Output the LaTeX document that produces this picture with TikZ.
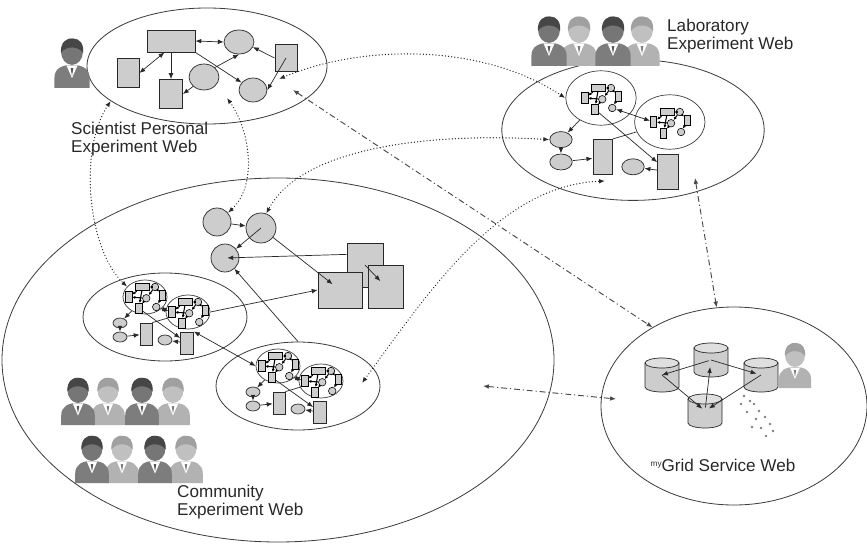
\documentclass[tikz,border=0pt]{standalone}
\usepackage{fontspec}
\setmainfont{Liberation Sans}
\usepackage{xcolor}
\definecolor{ink}{RGB}{40, 40, 40}
\definecolor{paper}{RGB}{205, 205, 205}
\definecolor{suitdark}{RGB}{125, 125, 125}
\definecolor{facedark}{RGB}{118, 118, 118}
\definecolor{hairdark}{RGB}{70, 70, 70}
\definecolor{suitlight}{RGB}{178, 178, 178}
\definecolor{facelight}{RGB}{192, 192, 192}
\definecolor{hairlight}{RGB}{160, 160, 160}
\usetikzlibrary{arrows.meta, positioning, shapes.geometric, shapes.misc}

% one drawing unit is one pixel of the layout
\newcommand{\pxl}{0.3mm}

% person icon: body colour, face colour, hair colour
\newcommand{\usericon}[3]{%
  \fill[#1] (-16,0) -- (-16,-9) .. controls (-16,-18) and (-9,-21) .. (0,-21)
    .. controls (9,-21) and (16,-18) .. (16,-9) -- (16,0) -- cycle;
  \fill[white] (-5,-20.5) -- (0,-9) -- (5,-20.5) -- cycle;
  \fill[#1!70!black] (-1.2,-18) -- (1.2,-18) -- (0,-11) -- cycle;
  \fill[#2] (0,-33) ellipse (10 and 12);
  \fill[#3] (-10,-32) .. controls (-11,-42) and (-4,-46) .. (1,-45)
    .. controls (7,-45) and (11,-40) .. (10,-32)
    .. controls (6,-38) and (-5,-39) .. (-10,-32) -- cycle;
}

\tikzset{
  wh/.style 2 args={minimum width=#1*\pxl, minimum height=#2*\pxl},
  webring/.style={ellipse, draw=ink!90, line width=0.7pt, inner sep=0pt, transform shape},
  subring/.style={ellipse, draw=ink!90, line width=0.6pt, inner sep=0pt, transform shape},
  blob/.style={ellipse, draw=ink, fill=paper, line width=0.6pt, inner sep=0pt, transform shape},
  box/.style={rectangle, draw=ink, fill=paper, line width=0.7pt, inner sep=0pt, transform shape},
  sheet/.style={chamfered rectangle, chamfered rectangle corners=south east,
    chamfered rectangle xsep=4*\pxl, chamfered rectangle ysep=4*\pxl,
    draw=ink, fill=paper, line width=0.7pt, inner sep=0pt, transform shape},
  minibox/.style={box, draw=black, line width=0.5pt},
  minidot/.style={blob, draw=black, wh={6}{6}, line width=0.5pt},
  minisheet/.style={sheet, draw=black, chamfered rectangle xsep=1*\pxl,
    chamfered rectangle ysep=1*\pxl, line width=0.5pt},
  flow/.style={-{Latex[length=5pt, width=4pt]}, draw=ink, line width=0.6pt},
  twoflow/.style={{Latex[length=5pt, width=4pt]}-{Latex[length=5pt, width=4pt]}, draw=ink, line width=0.6pt},
  wire/.style={draw=ink, line width=0.6pt},
  tinyflow/.style={-{Latex[length=2.6pt, width=2.6pt]}, draw=black, line width=0.9pt},
  dotlink/.style={{Latex[length=5pt, width=4pt]}-{Latex[length=5pt, width=4pt]}, draw=ink,
    line width=1.1pt, dash pattern=on 0.1pt off 2.6pt, line cap=round},
  dashlink/.style={{Latex[length=5pt, width=4pt]}-{Latex[length=5pt, width=4pt]}, draw=ink!85,
    line width=0.8pt, dash pattern=on 5pt off 2.5pt on 1pt off 2.5pt},
  lbl/.style={font=\fontsize{14.6}{15.5}\selectfont, text=ink, align=left,
    inner sep=0pt, anchor=north west},
  userdark/.pic={\usericon{suitdark}{facedark}{hairdark}},
  userlight/.pic={\usericon{suitlight}{facelight}{hairlight}},
  % database drum, arrows attach to its core node
  dbdrum/.pic={
    \node[inner sep=0pt, wh={35}{34}] (-core) at (0,0) {};
    \filldraw[fill=paper, draw=ink, line width=0.6pt] (-17,-12) -- (-17,12)
      arc[start angle=180, end angle=0, x radius=17, y radius=5] -- (17,-12) -- cycle;
    \filldraw[fill=paper!65, draw=ink, line width=0.6pt] (0,-12) ellipse (17 and 5);
  },
  % tiny workflow drawn inside a sub-web
  miniflow/.pic={
    \node[minibox, wh={11}{6}] (-r) at (-2,-8) {};
    \node[minidot] (-c1) at (8,-8) {};
    \node[minisheet, wh={5}{9}] (-d1) at (-13,0) {};
    \node[minidot] (-c2) at (1,1) {};
    \node[minisheet, wh={5}{8}] (-d2) at (-5,9) {};
    \node[minidot] (-c3) at (9,8) {};
    \node[minisheet, wh={5}{8}] (-d3) at (14,-1) {};
    \draw[tinyflow] (-r) -- (-d1);
    \draw[tinyflow] (-r) -- (-d2);
    \draw[tinyflow] (-c1) -- (-r);
    \draw[tinyflow] (-c1) -- (-c2);
    \draw[tinyflow] (-c2) -- (-d1);
    \draw[tinyflow] (-c2) -- (-d2);
    \draw[tinyflow] (-c1) -- (-d3);
    \draw[tinyflow] (-d3) -- (-c3);
  },
  % experiment web made of two sub-webs and a few resources
  subweb/.pic={
    \node[webring, wh={164}{88}] (-outer) at (0,0) {};
    \node[subring, wh={44}{34}] (-subA) at (-20,-20) {};
    \node[subring, wh={44}{34}] (-subB) at (23,-5) {};
    \pic[scale=1.25] (-mA) at (-20,-20) {miniflow};
    \pic[scale=1.25] (-mB) at (23,-5) {miniflow};
    \node[blob, wh={14}{10}] (-e1) at (-45,6) {};
    \node[blob, wh={14}{10}] (-e2) at (-45,20) {};
    \node[sheet, wh={12}{22}] (-d1) at (-19,17) {};
    \node[blob, wh={14}{10}] (-e3) at (0,23) {};
    \node[sheet, wh={13}{22}] (-d2) at (22,26) {};
    \draw[flow] (-subA) -- (-e1);
    \draw[flow] (-e1) -- (-e2);
    \draw[flow] (-e2) -- (-d1);
    \draw[wire] (-subB) -- (-d1.north east);
    \draw[flow] (-mA-d2) -- (-d2);
    \draw[flow] (-d2) -- (-e3);
    \draw[twoflow] (-mA-c3) -- (-mB-d1);
  }
}

\begin{document}
\begin{tikzpicture}[x=0.3mm, y=-0.3mm]
  \useasboundingbox (0,0) rectangle (867,544);

  % outer webs
  \node[webring, wh={240}{116}] (pers) at (207,66) {};
  \node[webring, wh={552}{364}] (comm) at (278,360) {};
  \node[webring, wh={266}{198}] (grid) at (734,406) {};
  \pic[scale=1.6] (lab) at (633,130) {subweb};
  \pic (comWfA) at (165,317) {subweb};
  \pic (comWfB) at (298,386) {subweb};

  % personal web
  \pic[scale=1.1] (pUser) at (72,88) {userdark};
  \node[box, wh={48}{22}] (pRect) at (171,41) {};
  \node[sheet, wh={22}{29}] (pDocL) at (128,73) {};
  \node[sheet, wh={23}{29}] (pDocM) at (171,94) {};
  \node[blob, wh={30}{26}] (pEllM) at (204,77) {};
  \node[blob, wh={30}{24}] (pEllT) at (239,42) {};
  \node[blob, wh={28}{24}] (pEllB) at (253,90) {};
  \node[sheet, wh={22}{27}] (pDocR) at (286,58) {};
  \draw[twoflow] (pRect.east) -- (pEllT.west);
  \draw[twoflow] (pRect.-120) -- (pDocL.east);
  \draw[flow] (pRect.south) -- (pDocM.north);
  \draw[flow] (pRect.south east) -- (pEllB);
  \draw[flow] (pEllM.north east) -- (pEllT.south);
  \draw[flow] (pEllM.south west) -- (pDocM.east);
  \draw[flow] (pDocR.center) -- (pEllB.east);
  \draw[flow] (pDocR.west) -- (pEllT.-20);

  % lab members
  \foreach \ux in {579, 642} \pic[scale=1.1] at (\ux,66) {userlight};
  \foreach \ux in {549, 613} \pic[scale=1.1] at (\ux,66) {userdark};

  % community web
  \node[blob, wh={28}{28}] (cCircA) at (217,222) {};
  \node[blob, wh={30}{30}] (cCircB) at (261,228) {};
  \node[blob, wh={28}{28}] (cCircC) at (225,258) {};
  \node[sheet, wh={36}{44}] (cDocB) at (365,265) {};
  \node[sheet, wh={44}{36}] (cDocA) at (340,290) {};
  \node[sheet, wh={35}{43}] (cDocC) at (386,287) {};
  \draw[flow] (cCircA) -- (cCircB);
  \draw[flow] (cCircB.center) -- (cCircC);
  \draw[flow, shorten >=8pt] (cCircB) -- (cDocA.center);
  \draw[flow, shorten >=2pt] (cDocB.150) -- (cCircC.center);
  \draw[flow, shorten >=7pt] (cDocB.center) -- (cDocC.center);
  \draw[flow] (comWfA-subB.east) -- (cDocA.west);
  \draw[flow] (comWfB-outer.north) -- (cCircC);
  \draw[twoflow] (comWfA-d2.north east) -- (comWfB-subA.west);

  % community members
  \foreach \ux in {108, 173} \pic[scale=1.05] at (\ux,425) {userlight};
  \foreach \ux in {78, 142} \pic[scale=1.05] at (\ux,425) {userdark};
  \foreach \ux in {122, 186} \pic[scale=1.05] at (\ux,483) {userlight};
  \foreach \ux in {92, 155} \pic[scale=1.05] at (\ux,483) {userdark};

  % service web
  \pic (gUser) at (795,388) {userlight};
  \pic (gDbA) at (662,375) {dbdrum};
  \pic (gDbB) at (711,360) {dbdrum};
  \pic (gDbC) at (761,375) {dbdrum};
  \pic (gDbD) at (705,411) {dbdrum};
  \draw[flow, shorten <=2pt] (gDbB-core.center) -- (gDbA-core.center);
  \draw[flow, shorten >=3pt] (gDbA-core.center) -- (gDbD-core.center);
  \draw[flow, shorten <=3pt, shorten >=6pt] (gDbD-core.center) -- (gDbB-core.center);
  \draw[flow, shorten >=4pt] (gDbB-core.center) -- (gDbC-core.center);
  \draw[flow, shorten >=4pt] (gDbC-core.center) -- (gDbD-core.center);
  \foreach \dx/\dy in {744/396, 750/401, 741/404, 754/404, 759/411, 747/412, 765/417,
      756/419, 770/424, 761/428, 773/431, 766/436, 752/427}
    \fill[ink!60] (\dx,\dy) circle (1.3);

  % links between the webs
  \coordinate (pDock) at (279,79);
  \coordinate (pGridDock) at (293,90);
  \coordinate (pDownDock) at (227,98);
  \coordinate (labDock) at (605,181);
  \coordinate (labGridDock) at (695,178);
  \coordinate (commDock) at (483,386);
  \coordinate (gridDock) at (616,399);
  \coordinate (cwbDock) at (362,383);
  \draw[dotlink] (pDock) .. controls (360,45) and (480,42) .. (lab-subA.west);
  \draw[dotlink] (pers.200) .. controls (78,150) and (88,250) .. (comWfA-subA.150);
  \draw[dotlink] (pDownDock) .. controls (250,130) and (258,185) .. (cCircA.40);
  \draw[dotlink] (lab-e1.west) .. controls (420,132) and (300,150) .. (cCircB.70);
  \draw[dotlink] (cwbDock) .. controls (430,290) and (500,185) .. (labDock);
  \draw[dashlink] (pGridDock) -- (grid.136);
  \draw[dashlink] (labGridDock) -- (grid.100);
  \draw[dashlink] (commDock) -- (gridDock);

  % captions
  \node[lbl] (persLbl) at (71,122) {Scientist Personal\\Experiment Web};
  \node[lbl] (labLbl) at (667,19) {Laboratory\\Experiment Web};
  \node[lbl] (commLbl) at (177,485) {Community\\Experiment Web};
  \node[lbl, anchor=center, align=center] (gridLbl) at (723,465)
    {\raisebox{0.55ex}{\fontsize{7}{7}\selectfont my}Grid Service Web};
\end{tikzpicture}
\end{document}
